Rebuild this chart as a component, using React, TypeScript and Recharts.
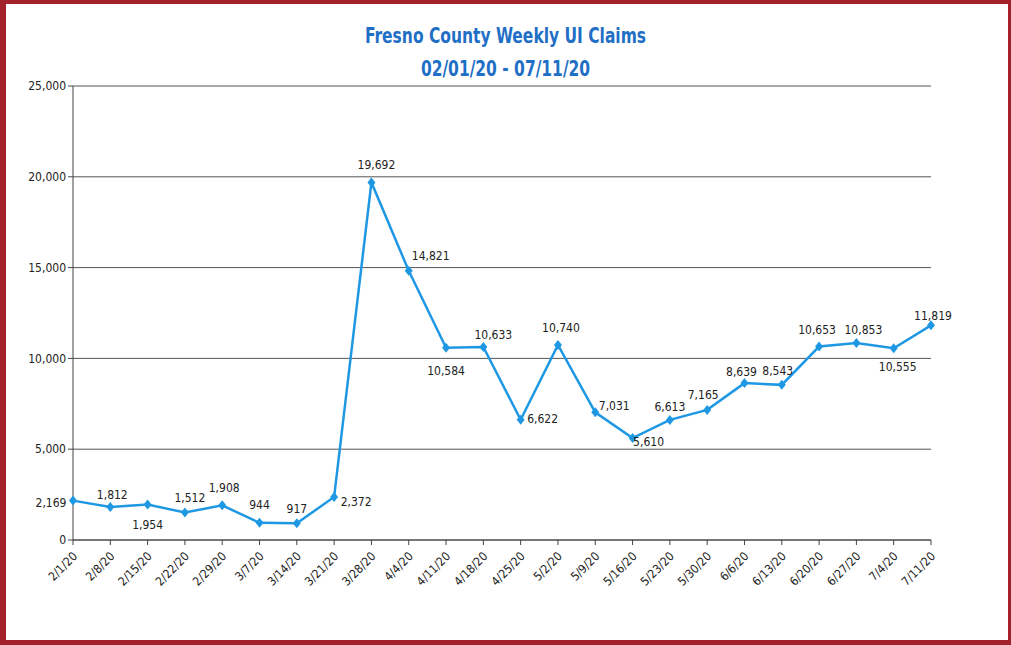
import { CartesianGrid, LabelList, Line, LineChart, XAxis, YAxis } from "recharts";

const weeks = [
  "2/1/20", "2/8/20", "2/15/20", "2/22/20", "2/29/20", "3/7/20", "3/14/20", "3/21/20",
  "3/28/20", "4/4/20", "4/11/20", "4/18/20", "4/25/20", "5/2/20", "5/9/20", "5/16/20",
  "5/23/20", "5/30/20", "6/6/20", "6/13/20", "6/20/20", "6/27/20", "7/4/20", "7/11/20",
];

const claims = [
  2169, 1812, 1954, 1512, 1908, 944, 917, 2372,
  19692, 14821, 10584, 10633, 6622, 10740, 7031, 5610,
  6613, 7165, 8639, 8543, 10653, 10853, 10555, 11819,
];

const yTicks = [0, 5000, 10000, 15000, 20000, 25000];

const data = weeks.map((week, i) => ({ week, claims: claims[i] }));

// where each value label sits relative to its point (dx, dy)
const labelOffsets: Array<[number, number]> = [
  [-22, 3], [2, -12], [0, 21], [5, -14], [2, -17], [0, -17], [0, -14], [22, 6],
  [5, -17], [22, -14], [0, 24], [10, -11], [22, 0], [3, -16], [19, -6], [16, 4],
  [0, -12], [-4, -14], [-3, -11], [-4, -13], [-2, -16], [7, -12], [4, 19], [2, -9],
];

const FONT = "'DejaVu Sans Condensed', 'DejaVu Sans', sans-serif";
const BLUE = "#1f98e4";
const textStyle = { fontStretch: "condensed" as const };

function Diamond(props: any) {
  const { cx, cy } = props;
  if (cx == null || cy == null) return null;
  return <polygon points={`${cx},${cy - 5} ${cx + 4},${cy} ${cx},${cy + 5} ${cx - 4},${cy}`} fill={BLUE} />;
}

function ValueLabel(props: any) {
  const { x, y, value, index } = props;
  const [dx, dy] = labelOffsets[index] || [0, -12];
  return (
    <text
      x={x + dx}
      y={y + dy}
      textAnchor="middle"
      dominantBaseline="middle"
      fontSize={12}
      fontFamily={FONT}
      style={textStyle}
      fill="#222"
    >
      {Number(value).toLocaleString("en-US")}
    </text>
  );
}

function WeekTick(props: any) {
  const { x, y, payload } = props;
  return (
    <text
      x={x + 5}
      y={y + 10}
      textAnchor="end"
      fontSize={12}
      fontFamily={FONT}
      style={textStyle}
      fill="#222"
      transform={`rotate(-45, ${x + 5}, ${y + 10})`}
    >
      {payload.value}
    </text>
  );
}

export default function App() {
  return (
    <div
      style={{
        position: "absolute",
        left: 0,
        top: 0,
        width: 1011,
        height: 645,
        boxSizing: "border-box",
        borderStyle: "solid",
        borderColor: "#a3212b",
        borderWidth: "4px 3px 5px 6px",
        background: "#fff",
      }}
    >
      <div
        style={{
          position: "absolute",
          left: -6,
          width: 1011,
          top: 16,
          textAlign: "center",
          color: "#1f6fc6",
          fontFamily: FONT,
          fontStretch: "condensed",
          fontWeight: "bold",
          fontSize: 21,
          lineHeight: "33px",
          transform: "scaleX(0.82)",
        }}
      >
        <div>Fresno County Weekly UI Claims</div>
        <div>02/01/20 - 07/11/20</div>
      </div>
      <div style={{ position: "absolute", left: -6, top: -4 }}>
        <LineChart width={1011} height={645} data={data} margin={{ top: 86, right: 80, bottom: 0, left: 8 }}>
          <CartesianGrid vertical={false} stroke="#555" strokeWidth={1} />
          <XAxis
            dataKey="week"
            interval={0}
            tick={<WeekTick />}
            tickSize={5}
            stroke="#444"
            height={105}
          />
          <YAxis
            domain={[0, 25000]}
            ticks={yTicks}
            tickFormatter={(v: number) => v.toLocaleString("en-US")}
            tick={{ fontSize: 12, fontFamily: FONT, fill: "#222", style: textStyle }}
            tickSize={5}
            stroke="#444"
            width={65}
          />
          <Line
            dataKey="claims"
            stroke={BLUE}
            strokeWidth={2.5}
            dot={<Diamond />}
            activeDot={false}
            isAnimationActive={false}
          >
            <LabelList dataKey="claims" content={<ValueLabel />} />
          </Line>
        </LineChart>
      </div>
    </div>
  );
}
